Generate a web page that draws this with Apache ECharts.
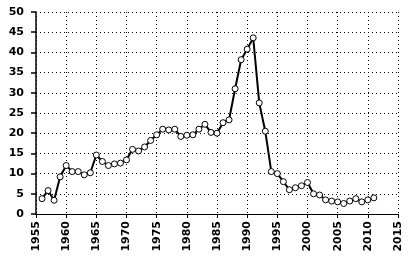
<!DOCTYPE html>
<html>
<head>
<meta charset="utf-8">
<script src="https://cdn.jsdelivr.net/npm/echarts@6/dist/echarts.min.js"></script>
<style>
  html, body { margin: 0; padding: 0; background: #fff; }
  #chart { width: 408px; height: 258px; }
</style>
</head>
<body>
<div id="chart"></div>
<script>
// values, one per year
const years = [
	1956, 1957, 1958, 1959, 1960, 1961, 1962, 1963, 1964, 1965,
	1966, 1967, 1968, 1969, 1970, 1971, 1972, 1973, 1974, 1975,
	1976, 1977, 1978, 1979, 1980, 1981, 1982, 1983, 1984, 1985,
	1986, 1987, 1988, 1989, 1990, 1991, 1992, 1993, 1994, 1995,
	1996, 1997, 1998, 1999, 2000, 2001, 2002, 2003, 2004, 2005,
	2006, 2007, 2008, 2009, 2010, 2011
];
const values = [
	3.8, 5.8, 3.4, 9.2, 12.0, 10.5, 10.5, 9.7, 10.2, 14.6,
	13.0, 12.0, 12.4, 12.6, 13.4, 16.0, 15.6, 16.6, 18.2, 19.6,
	21.0, 20.8, 21.0, 19.2, 19.5, 19.6, 21.0, 22.2, 20.2, 20.0,
	22.6, 23.3, 31.0, 38.2, 40.8, 43.6, 27.5, 20.5, 10.5, 10.0,
	8.0, 6.0, 6.5, 7.0, 7.8, 5.0, 4.7, 3.5, 3.2, 3.0,
	2.6, 3.2, 3.8, 3.0, 3.5, 4.0
];

const points = years.map( ( y, i ) => [ y, values[ i ] ] );

const chart = echarts.init( document.getElementById( 'chart' ), null, { renderer: 'canvas' } );

const labelFont = {
	color: '#000',
	fontFamily: 'DejaVu Sans',
	fontWeight: 'bold',
	fontSize: 11
};

chart.setOption( {
	animation: false,
	grid: { left: 36, right: 10, top: 12, bottom: 44 },
	xAxis: {
		type: 'value',
		min: 1955,
		max: 2015,
		interval: 5,
		axisLine: { show: true, lineStyle: { color: '#000', width: 1 } },
		axisTick: { show: true, length: 4, lineStyle: { color: '#000' } },
		axisLabel: Object.assign( { rotate: 90, margin: 7, formatter: v => String( v ) }, labelFont ),
		splitLine: { show: true, lineStyle: { color: '#000', type: [ 1, 3 ], width: 1 } }
	},
	yAxis: {
		type: 'value',
		min: 0,
		max: 50,
		interval: 5,
		axisLine: { show: true, lineStyle: { color: '#000', width: 1.5 } },
		axisTick: { show: true, length: 5, lineStyle: { color: '#000', width: 1.5 } },
		axisLabel: Object.assign( { margin: 12 }, labelFont ),
		splitLine: { show: true, lineStyle: { color: '#000', type: [ 1, 3 ], width: 1 } }
	},
	series: [ {
		type: 'line',
		data: points,
		symbol: 'circle',
		symbolSize: 6,
		showAllSymbol: true,
		lineStyle: { color: '#000', width: 2 },
		itemStyle: { color: '#fff', borderColor: '#000', borderWidth: 1 }
	} ]
} );
</script>
</body>
</html>
